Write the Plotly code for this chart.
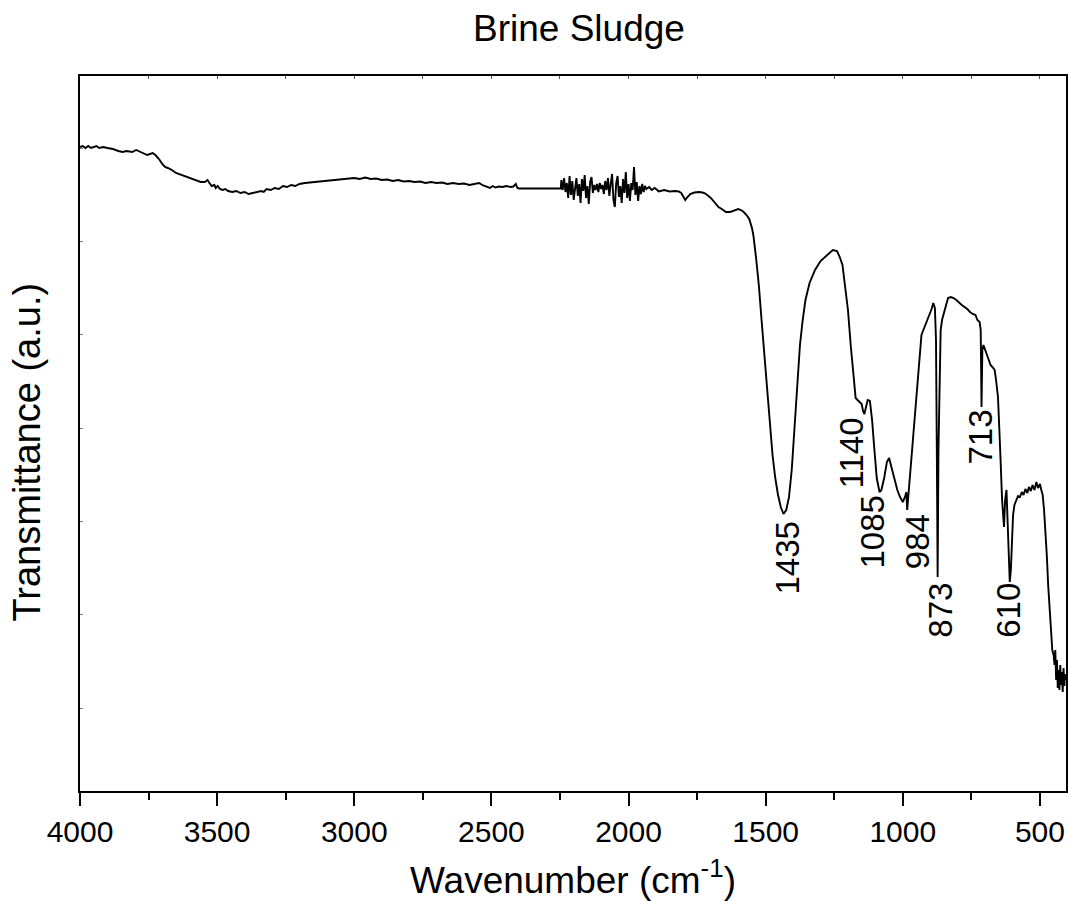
import plotly.graph_objects as go

# FTIR spectrum of brine sludge: wavenumber (cm-1) vs transmittance (a.u.)
wavenumber = [
    4000, 3990, 3980, 3970, 3960, 3950, 3940, 3930, 3915, 3900, 3880, 3860, 3845, 3830, 3810, 3795,
    3780, 3765, 3755, 3745, 3735, 3725, 3712, 3700, 3690, 3680, 3665, 3650, 3630, 3610, 3590, 3575,
    3560, 3545, 3535, 3528, 3520, 3510, 3505, 3498, 3490, 3480, 3470, 3460, 3445, 3430, 3415, 3400,
    3385, 3370, 3355, 3340, 3330, 3320, 3305, 3290, 3275, 3260, 3245, 3230, 3215, 3200, 3180, 3160,
    3140, 3120, 3100, 3080, 3060, 3040, 3020, 3000, 2980, 2960, 2940, 2920, 2900, 2880, 2860, 2840,
    2820, 2800, 2780, 2760, 2740, 2720, 2700, 2680, 2660, 2640, 2620, 2600, 2580, 2560, 2545, 2530,
    2515, 2505, 2495, 2485, 2472, 2460, 2445, 2430, 2420, 2411, 2405, 2399, 2247,
    2245, 2240, 2235, 2230, 2225, 2220, 2215, 2210, 2205, 2200, 2195, 2190, 2185, 2180, 2175, 2170,
    2165, 2160, 2155, 2150, 2145, 2140, 2135, 2130, 2125, 2120, 2115, 2110, 2105, 2100, 2095, 2090,
    2085, 2080, 2075, 2070, 2065, 2060, 2055, 2050, 2045, 2040, 2035, 2030, 2025, 2020, 2015, 2010,
    2005, 2000, 1995, 1990, 1985, 1980, 1975, 1970, 1965, 1960, 1955, 1950, 1945, 1940,
    1935, 1925, 1915, 1905, 1895, 1890, 1870, 1850, 1830, 1817, 1808, 1800, 1793, 1785, 1775, 1760,
    1744, 1730, 1720, 1700, 1680, 1672, 1660, 1645, 1629, 1615, 1600, 1590, 1580, 1570, 1560, 1550,
    1545, 1535, 1525, 1515, 1505, 1495, 1485, 1475, 1465, 1455, 1445, 1435, 1425, 1415, 1405, 1395,
    1385, 1375, 1365, 1355, 1340, 1320, 1300, 1285, 1270, 1255, 1240, 1230, 1220, 1210, 1200, 1190,
    1180, 1172, 1165, 1158, 1150, 1145, 1140, 1135, 1128, 1120, 1112, 1105, 1095, 1085, 1078, 1068,
    1058, 1050, 1040, 1030, 1020, 1010, 1000, 992, 987, 984, 978, 970, 960, 950, 940, 932,
    925, 915, 905, 895, 889, 883, 879, 876, 873, 870, 866, 862, 857, 850, 843, 835,
    825, 815, 805, 795, 785, 775, 765, 755, 745, 735, 728, 720, 716, 713, 710, 706,
    700, 690, 680, 670, 665, 660, 653, 645, 638, 631, 627, 622, 618, 614, 610, 606,
    602, 598, 593, 587, 580, 573, 566, 560, 553, 546, 540, 533, 527, 520, 513, 507,
    500, 495, 490, 485, 480, 475, 470, 465, 460, 455, 450, 447, 444, 441, 438, 435,
    432, 429, 426, 423, 420, 417, 414, 411, 408, 405,
]

transmittance = [
    64.4, 64.5, 64.3, 64.5, 64.3, 64.4, 64.5, 64.3, 64.4, 64.3, 64.2, 64.0, 63.9, 64.0, 63.9, 64.1,
    63.9, 63.7, 63.6, 63.7, 63.8, 63.6, 63.2, 62.7, 62.4, 62.3, 62.1, 61.8, 61.6, 61.4, 61.2, 61.0,
    60.9, 60.9, 61.1, 60.8, 60.5, 60.6, 60.3, 60.5, 60.2, 60.1, 60.2, 60.0, 59.9, 60.0, 59.8, 59.9,
    59.7, 59.8, 59.9, 60.0, 59.9, 60.2, 60.1, 60.3, 60.2, 60.5, 60.4, 60.6, 60.5, 60.7, 60.8, 60.85,
    60.9, 61.0, 61.05, 61.1, 61.15, 61.2, 61.25, 61.3, 61.2, 61.35, 61.2, 61.25, 61.1, 61.15, 61.0, 61.1,
    60.95, 61.0, 60.9, 60.95, 60.8, 60.9, 60.8, 60.85, 60.7, 60.8, 60.7, 60.75, 60.6, 60.7, 60.8, 60.55,
    60.4, 60.3, 60.5, 60.35, 60.45, 60.4, 60.5, 60.4, 60.45, 60.7, 60.3, 60.25, 60.25,
    61.1, 60.1, 61.3, 59.9, 60.8, 59.3, 61.5, 59.6, 61.0, 59.1, 60.6, 61.3, 59.5, 60.7, 58.8, 61.2,
    60.0, 61.6, 59.3, 60.5, 58.7, 60.9, 61.4, 59.8, 60.6, 60.1, 60.7, 59.9, 60.8, 60.2, 60.6, 59.7,
    61.0, 60.1, 61.3, 59.5, 60.7, 61.7, 59.1, 58.4, 60.8, 61.5, 59.4, 60.5, 58.8, 61.2, 59.8, 61.9,
    59.3, 60.7, 59.0, 60.8, 60.1, 62.4, 59.6, 60.9, 59.0, 60.5, 59.7, 60.7, 59.9, 60.5,
    60.2, 60.4, 60.1, 60.3, 60.1, 59.95, 60.1, 59.95, 60.0, 59.95, 59.8, 59.4, 59.1, 59.4, 59.7, 59.85,
    59.9, 59.85, 59.75, 59.3, 58.7, 58.4, 58.2, 57.9, 57.9, 58.05, 58.2, 58.1, 57.9, 57.6, 57.2, 56.3,
    55.6, 53.3, 50.6, 47.1, 43.6, 40.1, 36.6, 33.6, 31.3, 29.6, 28.4, 27.7, 28.1, 29.4, 32.1, 36.1,
    40.6, 44.6, 47.1, 49.1, 50.8, 52.1, 53.0, 53.4, 53.8, 54.1, 54.0, 53.4, 52.6, 50.6, 48.1, 44.6,
    41.3, 39.3, 39.1, 38.9, 38.7, 38.0, 37.7, 38.3, 39.1, 39.0, 37.1, 34.6, 31.3, 29.9, 30.1, 31.3,
    32.9, 33.3, 32.3, 31.1, 30.1, 29.4, 28.9, 29.4, 29.9, 28.1, 30.1, 32.1, 36.1, 39.1, 42.6, 45.6,
    46.1, 46.9, 47.5, 48.2, 48.8, 48.3, 45.1, 34.1, 21.4, 34.1, 43.1, 46.1, 47.1, 47.9, 48.6, 49.3,
    49.4, 49.3, 49.1, 48.8, 48.6, 48.4, 48.2, 47.9, 47.7, 47.6, 47.1, 46.9, 46.1, 38.4, 44.1, 44.6,
    44.1, 43.3, 42.6, 42.3, 42.1, 41.1, 39.4, 34.1, 29.1, 26.4, 29.1, 30.1, 27.1, 23.1, 20.9, 22.1,
    25.1, 27.6, 28.6, 29.1, 29.5, 29.4, 29.9, 29.6, 30.2, 29.8, 30.4, 30.0, 30.6, 30.1, 30.9, 30.3,
    30.7, 30.1, 29.6, 28.1, 26.1, 23.6, 20.6, 18.6, 16.1, 14.1, 13.6, 12.6, 14.1, 11.1, 13.1, 10.3,
    12.1, 10.1, 12.6, 10.6, 11.9, 9.9, 12.3, 10.5, 11.7, 11.1,
]

# Labelled absorption bands
peak_labels = [1435, 1140, 1085, 984, 873, 713, 610]
# Vertical placement of each rotated label (a.u.) and horizontal nudge (px)
label_y = [23.3, 33.8, 25.9, 24.9, 18.1, 35.4, 18.1]
label_dx = [3, -13, -8, 10, 2, -2, -2]

x_ticks = [4000, 3500, 3000, 2500, 2000, 1500, 1000, 500]

FONT = "Arial, Liberation Sans, sans-serif"

fig = go.Figure()
fig.add_trace(go.Scatter(
    x=wavenumber, y=transmittance, mode="lines",
    line=dict(color="black", width=1.9), showlegend=False, hoverinfo="skip",
))
# empty trace anchoring the top (mirrored) tick axis
fig.add_trace(go.Scatter(x=[None], y=[None], xaxis="x2", mode="lines",
                         showlegend=False, hoverinfo="skip"))

annotations = []
for p, yy, dx in zip(peak_labels, label_y, label_dx):
    annotations.append(dict(
        x=p, y=yy, xref="x", yref="y", text=str(p), showarrow=False, textangle=-90,
        xanchor="center", yanchor="middle", xshift=dx,
        font=dict(family=FONT, size=33, color="black"),
    ))

annotations += [
    dict(text="Brine Sludge", x=0.506, y=1.066, xref="paper", yref="paper", showarrow=False,
         xanchor="center", yanchor="middle", font=dict(family=FONT, size=37, color="black")),
    dict(text="Wavenumber (cm<sup>-1</sup>)", x=0.5, y=-0.121, xref="paper", yref="paper",
         showarrow=False, xanchor="center", yanchor="middle",
         font=dict(family=FONT, size=37, color="black")),
    dict(text="Transmittance (a.u.)", x=-0.054, y=0.4745, xref="paper", yref="paper",
         showarrow=False, textangle=-90, xanchor="center", yanchor="middle",
         font=dict(family=FONT, size=38, color="black")),
]

fig.update_layout(
    width=1069, height=901,
    margin=dict(l=80, r=1, t=76, b=110),
    paper_bgcolor="white", plot_bgcolor="white",
    font=dict(family=FONT, color="black"),
    annotations=annotations,
    xaxis=dict(
        range=[4000, 405], tickvals=x_ticks, ticks="outside", ticklen=13, tickwidth=1.5,
        tickcolor="black", tickfont=dict(size=30, family=FONT, color="black"),
        minor=dict(ticks="outside", ticklen=7, tickwidth=1.5, dtick=250, tick0=0, tickcolor="black"),
        showline=True, linewidth=2, linecolor="black", mirror=True,
        showgrid=False, zeroline=False,
    ),
    xaxis2=dict(
        range=[4000, 405], overlaying="x", side="top", anchor="y",
        ticks="inside", ticklen=3, tickwidth=1, tickcolor="#555", dtick=250, tick0=0,
        showticklabels=False, showline=False, showgrid=False, zeroline=False,
    ),
    yaxis=dict(
        range=[0, 71.5], ticks="inside", ticklen=3, tickwidth=1, tickcolor="#777",
        tick0=8.3, dtick=9.33, showticklabels=False,
        showline=True, linewidth=2, linecolor="black", mirror=True,
        showgrid=False, zeroline=False,
    ),
)

fig.write_html("out.html")
